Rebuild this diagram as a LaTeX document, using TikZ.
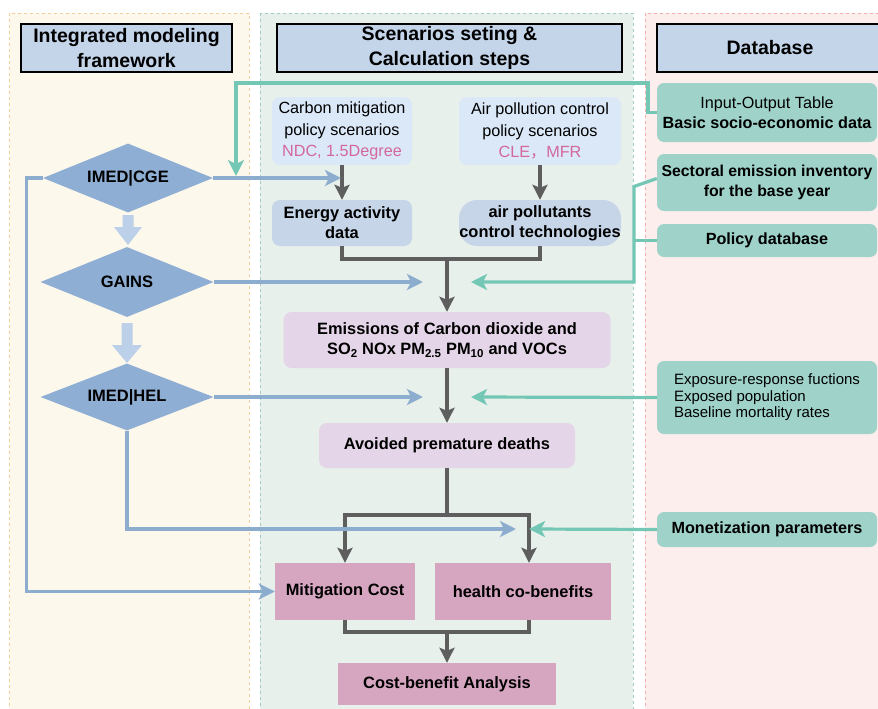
\documentclass[tikz,border=0pt]{standalone}
\usepackage{fontspec}
\setmainfont{Liberation Sans}
\newfontfamily\cjk{Noto Sans CJK SC}
\usetikzlibrary{shapes.geometric,arrows.meta}
\definecolor{hdrc}{HTML}{C4D5EA}
\definecolor{panL}{HTML}{FDF8EC}
\definecolor{panLb}{HTML}{F3CF9E}
\definecolor{panM}{HTML}{E8F0EB}
\definecolor{panMb}{HTML}{A3CDBE}
\definecolor{panR}{HTML}{FDEEEE}
\definecolor{panRb}{HTML}{F2AFAF}
\definecolor{diac}{HTML}{8EAED4}
\definecolor{blkc}{HTML}{BCD0EA}
\definecolor{bluec}{HTML}{8DADCF}
\definecolor{tealc}{HTML}{74C7B5}
\definecolor{grayc}{HTML}{5E5E5E}
\definecolor{scenc}{HTML}{DAE8F7}
\definecolor{actc}{HTML}{C6D5E7}
\definecolor{lilac}{HTML}{E5D5E8}
\definecolor{mauve}{HTML}{D6A6C1}
\definecolor{dbc}{HTML}{9FD3CA}
\definecolor{pinkt}{HTML}{D4689D}
\begin{document}
\begin{tikzpicture}[x=1pt,y=-1pt,
  hdrbox/.style={draw=black,line width=1.2pt,fill=hdrc,align=center,inner sep=0pt,
    font=\fontsize{19.5}{25}\selectfont\bfseries},
  dia/.style={diamond,fill=diac,inner sep=0pt,aspect=2.5,
    font=\fontsize{16.5}{18}\selectfont\bfseries},
  scen/.style={rounded corners=8pt,fill=scenc,align=center,inner sep=0pt,
    font=\fontsize{16.2}{21.5}\selectfont},
  actbox/.style={rounded corners=8pt,fill=actc,align=center,inner sep=0pt,
    font=\fontsize{16.4}{20}\selectfont\bfseries},
  lilbox/.style={rounded corners=8pt,fill=lilac,align=center,inner sep=0pt,
    font=\fontsize{16.4}{20}\selectfont\bfseries},
  resbox/.style={fill=mauve,align=center,inner sep=0pt,
    font=\fontsize{16.4}{20}\selectfont\bfseries},
  dbbox/.style={rounded corners=7pt,fill=dbc,align=center,inner sep=0pt,
    minimum width=220pt,font=\fontsize{16.2}{20}\selectfont\bfseries},
  gline/.style={draw=grayc,line width=3.2pt},
  garrow/.style={gline,-{Stealth[length=15pt,width=15pt,inset=3pt]}},
  bline/.style={draw=bluec,line width=3.2pt},
  barrow/.style={bline,-{Stealth[length=16pt,width=16pt,inset=4pt]}},
  tline/.style={draw=tealc,line width=3.2pt},
  tarrow/.style={tline,-{Stealth[length=16pt,width=16pt,inset=4pt]}}
]
\useasboundingbox (0,0) rectangle (878,709);
\fill[white] (0,0) rectangle (878,709);
% panels
\draw[fill=panL,draw=panLb,dashed,line width=0.6pt] (9,13) rectangle (249,715);
\draw[fill=panM,draw=panMb,dashed,line width=0.6pt] (260,13) rectangle (633,715);
\draw[fill=panR,draw=panRb,dashed,line width=0.6pt] (645,13) rectangle (885,715);

% headers
\node[hdrbox,minimum width=211pt,minimum height=48pt] (hL) at (126.5,48) {Integrated modeling\\framework};
\node[hdrbox,minimum width=345pt,minimum height=48pt] (hM) at (449.5,48) {Scenarios seting \&\\Calculation steps};
\node[hdrbox,minimum width=226pt,minimum height=48pt] (hR) at (770,48) {Database};

% diamonds
\node[dia,minimum width=170pt,minimum height=69pt] (cge) at (128,178) {IMED|CGE};
\node[dia,minimum width=173pt,minimum height=70pt] (gains) at (127,282) {GAINS};
\node[dia,minimum width=173pt,minimum height=67pt] (hel) at (127,397) {IMED|HEL};

% block arrows
\fill[blkc] (122.5,215) -- (133.5,215) -- (133.5,227) -- (142,227) -- (128,245) -- (114,227) -- (122.5,227) -- cycle;
\fill[blkc] (121.5,323) -- (132.5,323) -- (132.5,345) -- (142,345) -- (127,363) -- (112,345) -- (121.5,345) -- cycle;

% middle column
\node[scen,minimum width=140pt,minimum height=68pt] (carb) at (342,131) {Carbon mitigation\\policy scenarios\\\textcolor{pinkt}{NDC, 1.5Degree}};
\node[scen,minimum width=162pt,minimum height=68pt] (airp) at (540,131) {Air pollution control\\policy scenarios\\\textcolor{pinkt}{CLE{\cjk ，}MFR}};
\node[actbox,minimum width=140pt,minimum height=46pt] (energy) at (342,223) {Energy activity\\data};
\node[actbox,rounded corners=18pt,minimum width=162pt,minimum height=46pt] (airtech) at (540,223) {air pollutants\\control technologies};
\node[lilbox,minimum width=327pt,minimum height=56pt] (emis) at (447,340) {Emissions of Carbon dioxide and\\SO\textsubscript{2} NOx PM\textsubscript{2.5} PM\textsubscript{10} and VOCs};
\node[lilbox,minimum width=256pt,minimum height=45pt] (avoid) at (447,445.5) {Avoided premature deaths};
\node[resbox,minimum width=140pt,minimum height=57pt] (mitig) at (345,591.5) {Mitigation Cost};
\node[resbox,minimum width=176pt,minimum height=57pt] (health) at (523,591.5) {health co-benefits};
\node[resbox,minimum width=218pt,minimum height=42pt] (cba) at (447,684) {Cost-benefit Analysis};

% database column
\node[dbbox,minimum height=59pt] (io) at (767,112.5) {{\mdseries Input-Output Table}\\Basic socio-economic data};
\node[dbbox,minimum height=57pt,font=\fontsize{15.8}{20}\selectfont\bfseries] (sect) at (767,182.5) {Sectoral emission inventory\\for the base year};
\node[dbbox,minimum height=33pt] (pol) at (767,240.5) {Policy database};
\node[dbbox,minimum height=73pt,font=\fontsize{15}{16.5}\selectfont,align=left] (expo) at (767,397.5) {Exposure-response fuctions\\Exposed population\\Baseline mortality rates};
\node[dbbox,minimum height=35pt] (mon) at (767,529.5) {Monetization parameters};

% coordinates
\coordinate (j1) at (447,259);
\coordinate (j2) at (447,515);
\coordinate (j3) at (447,632);
\coordinate (bt1) at (341,178);
\coordinate (bt2) at (423,282);
\coordinate (bt3) at (423,397);
\coordinate (bt4) at (516,529);
\coordinate (tt1) at (236,176);
\coordinate (tt2) at (471,282);
\coordinate (tt3) at (471,397);
\coordinate (tt4) at (529,529);

% gray flow
\draw[garrow] (carb.south) -- (energy.north);
\draw[garrow] (airp.south) -- (airtech.north);
\draw[gline] (energy.south) |- (j1);
\draw[gline] (airtech.south) |- (j1);
\draw[garrow] (j1) -- (emis.north);
\draw[garrow] (emis.south) -- (avoid.north);
\draw[gline] (avoid.south) -- (j2);
\draw[garrow] (j2) -| (mitig.north);
\draw[garrow] (j2) -| ([xshift=6pt]health.north);
\draw[gline] (mitig.south) |- (j3);
\draw[gline] ([xshift=6pt]health.south) |- (j3);
\draw[garrow] (j3) -- (cba.north);

% blue connectors
\draw[barrow] (cge.east) -- (bt1);
\draw[barrow] (cge.west) -- ++(-16,0) |- (mitig.west);
\draw[barrow] (gains.east) -- (bt2);
\draw[barrow] (hel.east) -- (bt3);
\draw[barrow] (hel.south) |- (bt4);

% teal connectors
\draw[tarrow] (io.west) -- (648,112.5) -- (648,83) -| (tt1);
\draw[tarrow] ([yshift=4pt]sect.west) -- (634,186.5) |- (tt2);
\draw[tline] (pol.west) -- (634,240.5);
\draw[tarrow] (expo.west) -- (tt3);
\draw[tarrow] (mon.west) -- (tt4);
\end{tikzpicture}
\end{document}
